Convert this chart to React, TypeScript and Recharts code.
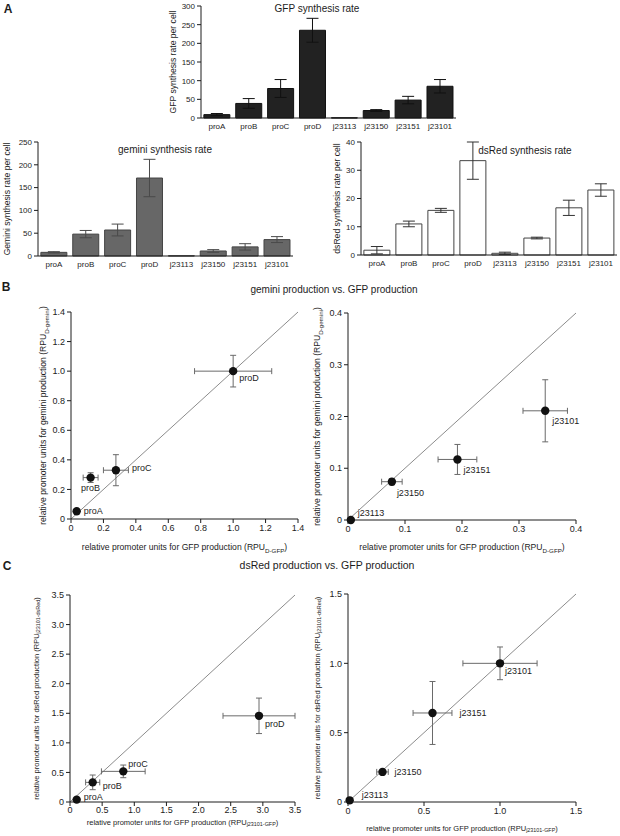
import React from 'react';
import {
  BarChart, Bar, XAxis, YAxis, ErrorBar, ScatterChart, Scatter, ReferenceLine
} from 'recharts';

const FONT = '"Liberation Sans", Arial, Helvetica, sans-serif';
const INK = '#1c1c1c';

// --- panel A: synthesis rates per promoter ---
const promoters = ['proA', 'proB', 'proC', 'proD', 'j23113', 'j23150', 'j23151', 'j23101'];
const gfpRate = [9, 39, 79, 235, 0.5, 20, 48, 85];
const gfpRateErr = [3, 13, 24, 32, 0, 2.5, 10, 18];
const geminiRate = [8, 48, 57, 171, 0.5, 11, 20, 36];
const geminiRateErr = [1.5, 8, 13, 41, 0, 3, 7, 6.5];
const dsRedRate = [1.7, 11, 15.8, 33.4, 0.6, 6, 16.7, 23];
const dsRedRateErr = [1.3, 1, 0.7, 6.6, 0.4, 0.3, 2.7, 2.2];

const gfpTicks = [0, 50, 100, 150, 200, 250, 300];
const geminiTicks = [0, 50, 100, 150, 200, 250];
const dsRedTicks = [0, 10, 20, 30, 40];

// --- panel B: gemini vs GFP (RPU) ---
const natural = ['proA', 'proB', 'proC', 'proD'];
const synthetic = ['j23113', 'j23150', 'j23151', 'j23101'];

const bNatX = [0.035, 0.121, 0.277, 1.0];
const bNatXErr = [0.008, 0.046, 0.077, 0.238];
const bNatY = [0.052, 0.28, 0.33, 1.0];
const bNatYErr = [0.01, 0.033, 0.105, 0.107];

const bSynX = [0.005, 0.077, 0.192, 0.346];
const bSynXErr = [0.002, 0.018, 0.034, 0.039];
const bSynY = [0, 0.074, 0.117, 0.211];
const bSynYErr = [0, 0.006, 0.029, 0.06];

// --- panel C: dsRed vs GFP (RPU) ---
const cNatX = [0.104, 0.353, 0.829, 2.94];
const cNatXErr = [0.03, 0.11, 0.34, 0.56];
const cNatY = [0.04, 0.332, 0.518, 1.457];
const cNatYErr = [0.02, 0.124, 0.107, 0.3];

const cSynX = [0.011, 0.227, 0.556, 1.0];
const cSynXErr = [0.005, 0.038, 0.128, 0.244];
const cSynY = [0.012, 0.217, 0.642, 1.0];
const cSynYErr = [0.005, 0.01, 0.227, 0.118];

const ticksB1 = [0, 0.2, 0.4, 0.6, 0.8, 1.0, 1.2, 1.4];
const ticksB2 = [0, 0.1, 0.2, 0.3, 0.4];
const ticksC1 = [0, 0.5, 1.0, 1.5, 2.0, 2.5, 3.0, 3.5];
const ticksC2 = [0, 0.5, 1.0, 1.5];

// label placement next to each dot (dx to text start, dy to text middle)
const offsB1: Record<string, [number, number, string?]> = {
  proA: [7, 0], proB: [0, 10, 'middle'], proC: [16, -2], proD: [6, 7],
};
const offsB2: Record<string, [number, number, string?]> = {
  j23113: [7, -7], j23150: [5, 11], j23151: [6, 11], j23101: [7, 10],
};
const offsC1: Record<string, [number, number, string?]> = {
  proA: [7, -3], proB: [10, 4], proC: [5, -7], proD: [6, 8],
};
const offsC2: Record<string, [number, number, string?]> = {
  j23113: [12, -5], j23150: [12, 0], j23151: [27, 0], j23101: [5, 8],
};

const barRows = promoters.map((name, i) => ({
  name,
  gfp: gfpRate[i], gfpErr: gfpRateErr[i],
  gemini: geminiRate[i], geminiErr: geminiRateErr[i],
  dsRed: dsRedRate[i], dsRedErr: dsRedRateErr[i],
}));
const edgeTicks = promoters.map((_, i) => i).concat(promoters.length);

const toPoints = (names: string[], x: number[], xe: number[], y: number[], ye: number[]) =>
  names.map((name, i) => ({ name, x: x[i], xe: xe[i], y: y[i], ye: ye[i] }));

const fmt = (v: number) => (v === 0 ? '0' : v.toFixed(1));

const AxisTitle = (props: any) => {
  const { viewBox, dx = 0, dy = 0, vertical, size, main, sub, tail } = props;
  const vb = viewBox || { x: 0, y: 0, width: 0, height: 0 };
  const x = vertical ? vb.x + dx : vb.x + vb.width / 2;
  const y = vertical ? vb.y + vb.height / 2 : vb.y + dy;
  return (
    <text
      x={x}
      y={y}
      textAnchor="middle"
      dominantBaseline="central"
      transform={vertical ? `rotate(-90 ${x} ${y})` : undefined}
      fontSize={size}
      fill={INK}
      fontFamily={FONT}
    >
      {main}
      {sub && <tspan dy={size * 0.3} fontSize={size * 0.72}>{sub}</tspan>}
      {sub && <tspan dy={-size * 0.3}>{tail}</tspan>}
    </text>
  );
};

const makeDot = (offs: Record<string, [number, number, string?]>) => (props: any) => {
  const { cx, cy, payload } = props;
  const o = offs[payload.name] || [6, 0];
  return (
    <g>
      <circle cx={cx} cy={cy} r={4.2} fill="#111" />
      <text
        x={cx + o[0]}
        y={cy + o[1]}
        textAnchor={o[2] || 'start'}
        dominantBaseline="central"
        fontSize={9}
        fill={INK}
        fontFamily={FONT}
      >
        {payload.name}
      </text>
    </g>
  );
};

const tickStyle = (size: number) => ({ fontSize: size, fill: INK, fontFamily: FONT });

const BarPanel = (p: any) => (
  <div style={{ position: 'absolute', left: p.left, top: p.top, width: p.width, height: p.height }}>
    <BarChart
      width={p.width}
      height={p.height}
      data={barRows}
      margin={{ top: p.marginTop, right: p.marginRight, bottom: 0, left: 0 }}
      barCategoryGap="9%"
    >
      <XAxis
        xAxisId="b"
        dataKey="name"
        type="category"
        height={20}
        axisLine={false}
        tickLine={false}
        tickSize={3}
        tickMargin={1}
        interval={0}
        tick={tickStyle(8)}
      />
      <XAxis
        xAxisId="a"
        type="number"
        domain={[0, promoters.length]}
        ticks={edgeTicks}
        height={1}
        axisLine={{ stroke: INK }}
        tickLine={{ stroke: INK }}
        tickSize={3}
        tick={false}
      />
      <YAxis
        width={p.yWidth}
        domain={[0, p.max]}
        ticks={p.ticks}
        axisLine={{ stroke: INK }}
        tickLine={{ stroke: INK }}
        tickSize={4}
        tickMargin={2}
        tick={tickStyle(8)}
        label={<AxisTitle vertical dx={p.yLabelDx} size={8.6} main={p.yLabel} />}
      />
      <Bar
        xAxisId="b"
        dataKey={p.dataKey}
        fill={p.fill}
        stroke={p.stroke}
        strokeWidth={1}
        isAnimationActive={false}
      >
        <ErrorBar dataKey={p.errKey} width={6} stroke={p.errStroke} strokeWidth={1} />
      </Bar>
    </BarChart>
  </div>
);

const ScatterPanel = (p: any) => (
  <div style={{ position: 'absolute', left: p.left, top: p.top, width: p.width, height: p.height }}>
    <ScatterChart
      width={p.width}
      height={p.height}
      margin={{ top: p.marginTop, right: p.marginRight, bottom: 0, left: 0 }}
    >
      <XAxis
        type="number"
        dataKey="x"
        domain={[0, p.max]}
        ticks={p.ticks}
        tickFormatter={fmt}
        height={p.xHeight}
        axisLine={{ stroke: INK }}
        tickLine={{ stroke: INK }}
        tickSize={4}
        tickMargin={p.xTickMargin ?? 2}
        tick={tickStyle(9)}
        label={<AxisTitle dy={p.xTitleDy} size={p.titleSize} main={p.xMain} sub={p.xSub} tail=")" />}
      />
      <YAxis
        type="number"
        dataKey="y"
        domain={[0, p.max]}
        ticks={p.ticks}
        tickFormatter={fmt}
        width={p.yWidth}
        axisLine={{ stroke: INK }}
        tickLine={{ stroke: INK }}
        tickSize={4}
        tickMargin={2}
        tick={tickStyle(9)}
        label={<AxisTitle vertical dx={p.yTitleDx} size={p.titleSize} main={p.yMain} sub={p.ySub} tail=")" />}
      />
      <ReferenceLine
        segment={[{ x: 0, y: 0 }, { x: p.max, y: p.max }]}
        stroke="#8c8c8c"
        strokeWidth={1}
        ifOverflow="visible"
      />
      <Scatter data={p.points} shape={makeDot(p.offs)} isAnimationActive={false}>
        <ErrorBar dataKey="xe" direction="x" width={3} stroke="#6a6a6a" strokeWidth={1} />
        <ErrorBar dataKey="ye" direction="y" width={3} stroke="#6a6a6a" strokeWidth={1} />
      </Scatter>
    </ScatterChart>
  </div>
);

const Caption = ({ x, y, size, bold, children }: any) => (
  <div
    style={{
      position: 'absolute', left: x, top: y, transform: 'translate(-50%, -50%)',
      fontSize: size, fontWeight: bold ? 700 : 400, lineHeight: 1, whiteSpace: 'nowrap',
      color: INK, fontFamily: FONT,
    }}
  >
    {children}
  </div>
);

const xMainGfp = 'relative promoter units for GFP production (RPU';

export default function App() {
  return (
    <div style={{ position: 'absolute', left: 0, top: 0, width: 620, height: 836, background: '#fff', fontFamily: FONT }}>
      <Caption x={8} y={9} size={12} bold>A</Caption>
      <Caption x={6} y={287} size={12} bold>B</Caption>
      <Caption x={7} y={566} size={12} bold>C</Caption>

      <BarPanel
        left={150} top={0} width={310} height={139} marginTop={6} marginRight={4} yWidth={51}
        dataKey="gfp" errKey="gfpErr" max={300} ticks={gfpTicks}
        fill="#222" stroke="#111" errStroke="#111"
        yLabel="GFP synthesis rate per cell" yLabelDx={23}
      />
      <Caption x={317} y={9} size={10}>GFP synthesis rate</Caption>

      <BarPanel
        left={0} top={130} width={300} height={147} marginTop={12} marginRight={7} yWidth={38}
        dataKey="gemini" errKey="geminiErr" max={250} ticks={geminiTicks}
        fill="#676767" stroke="#454545" errStroke="#4a4a4a"
        yLabel="Gemini synthesis rate per cell" yLabelDx={7}
      />
      <Caption x={165} y={150} size={10}>gemini synthesis rate</Caption>

      <BarPanel
        left={310} top={130} width={310} height={146} marginTop={12} marginRight={3} yWidth={51}
        dataKey="dsRed" errKey="dsRedErr" max={40} ticks={dsRedTicks}
        fill="#fff" stroke="#444" errStroke="#333"
        yLabel="dsRed synthesis rate per cell" yLabelDx={27}
      />
      <Caption x={525} y={151} size={10}>dsRed synthesis rate</Caption>

      <Caption x={334} y={290} size={10}>gemini production vs. GFP production</Caption>

      <ScatterPanel
        left={0} top={300} width={310} height={253} marginTop={12} marginRight={12} yWidth={71} xHeight={34}
        points={toPoints(natural, bNatX, bNatXErr, bNatY, bNatYErr)} offs={offsB1}
        max={1.4} ticks={ticksB1} titleSize={8.6}
        xMain={xMainGfp} xSub="D-GFP" xTitleDy={28}
        yMain="relative promoter units for gemini production (RPU" ySub="D-gemini" yTitleDx={43}
      />
      <ScatterPanel
        left={310} top={300} width={310} height={254} marginTop={13} marginRight={44} yWidth={38} xHeight={34}
        points={toPoints(synthetic, bSynX, bSynXErr, bSynY, bSynYErr)} offs={offsB2}
        max={0.4} ticks={ticksB2} titleSize={8.6}
        xMain={xMainGfp} xSub="D-GFP" xTitleDy={27}
        yMain="relative promoter units for gemini production (RPU" ySub="D-gemini" yTitleDx={7}
      />

      <Caption x={327} y={565} size={10.5}>dsRed production vs. GFP production</Caption>

      <ScatterPanel
        left={0} top={580} width={310} height={250} marginTop={15} marginRight={15} yWidth={70} xHeight={28}
        points={toPoints(natural, cNatX, cNatXErr, cNatY, cNatYErr)} offs={offsC1}
        max={3.5} ticks={ticksC1} titleSize={7.5} xTickMargin={1}
        xMain={xMainGfp} xSub="j23101-GFP" xTitleDy={20}
        yMain="relative promoter units for dsRed production (RPU" ySub="j23101-dsRed" yTitleDx={36}
      />
      <ScatterPanel
        left={310} top={580} width={310} height={256} marginTop={14} marginRight={44} yWidth={38} xHeight={34}
        points={toPoints(synthetic, cSynX, cSynXErr, cSynY, cSynYErr)} offs={offsC2}
        max={1.5} ticks={ticksC2} titleSize={7.5}
        xMain={xMainGfp} xSub="j23101-GFP" xTitleDy={26}
        yMain="relative promoter units for dsRed production (RPU" ySub="j23101-dsRed" yTitleDx={7}
      />
    </div>
  );
}
